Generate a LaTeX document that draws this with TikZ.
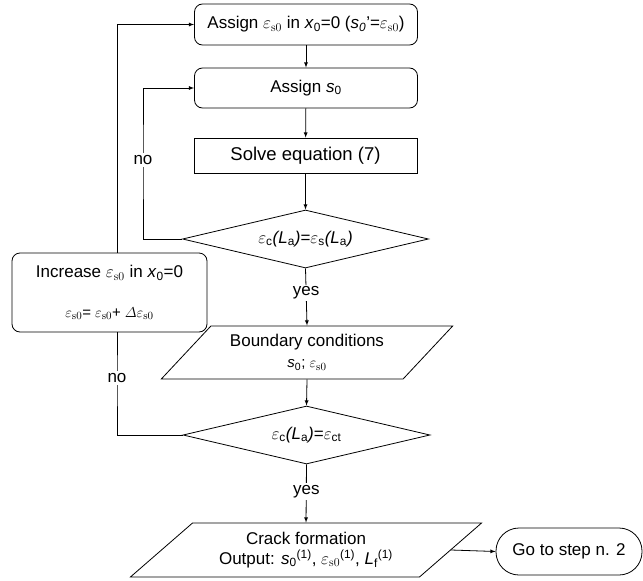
\documentclass[tikz,border=0pt]{standalone}
\usepackage{amsmath}
\usepackage[no-math]{fontspec}
\setmainfont{Liberation Sans}
\usetikzlibrary{arrows, shapes.geometric, calc}

\newcommand{\es}{$\varepsilon_{\mathrm{s0}}$}
\newcommand{\ix}[2]{\textit{#1}\textsubscript{#2}}

\begin{document}
\begin{tikzpicture}[x=1pt, y=-1pt, line width=0.8pt, >=latex,
    every node/.style={font=\fontsize{17}{20}\selectfont, inner sep=0pt},
    rbox/.style={draw, rectangle, rounded corners=8pt, minimum width=223pt, minimum height=41pt},
    sbox/.style={draw, rectangle, minimum width=223pt, minimum height=35pt},
    dbox/.style={draw, diamond, aspect=4.2, minimum width=246pt, minimum height=58pt},
    pbox/.style={draw, trapezium, trapezium stretches=true, align=center},
    lbl/.style={fill=white, inner sep=2pt}]
    \useasboundingbox (0,0) rectangle (643,581);

    % main column
    \node[rbox] (asgeps) at (306,24.5) {Assign \es{} in \ix{x}{0}=0 (\ix{s}{\textit{0}}'=\es)};
    \node[rbox, minimum height=40pt] (asgs) at (306,88) {Assign \ix{s}{0}};
    \node[sbox, font=\fontsize{18.5}{22}\selectfont] (solve) at (305.5,155.5) {Solve equation (7)};
    \node[dbox] (chk1) at (305.5,239) {$\varepsilon$\textsubscript{c}\textit{(L}\textsubscript{a}\textit{)}=$\varepsilon$\textsubscript{s}\textit{(L}\textsubscript{a}\textit{)}};
    \node[pbox, trapezium left angle=42, trapezium right angle=138,
        minimum width=292pt, minimum height=53pt] (bound) at (307,352.5)
        {Boundary conditions\\[1pt]{\fontsize{15}{18}\selectfont\ix{s}{0}; \es}};
    \node[dbox, minimum width=247pt] (chk2) at (306.5,435) {$\varepsilon$\textsubscript{c}\textit{(L}\textsubscript{a}\textit{)}=$\varepsilon$\textsubscript{ct}};
    \node[pbox, trapezium left angle=37, trapezium right angle=143,
        minimum width=352pt, minimum height=54pt] (crack) at (306,550)
        {Crack formation\\Output: \ix{s}{0}\textsuperscript{(1)}, \es\textsuperscript{(1)}, \ix{L}{f}\textsuperscript{(1)}};
    \node[rbox, rounded corners=23pt, minimum width=146pt, minimum height=47pt] (goto) at (569,551.5) {Go to step n. 2};

    % side box
    \node[rbox, minimum width=195pt, minimum height=79pt, align=center] (incr) at (109.5,292.5)
        {Increase \es{} in \ix{x}{0}=0\\[20pt]{\fontsize{15}{18}\selectfont\es= \es+ $\varDelta$\es}};

    \coordinate (k1) at (143,160);
    \coordinate (k2) at (117,378);

    \draw[->] (asgeps) -- (asgs);
    \draw[->] (asgs) -- (solve);
    \draw[->] (solve) -- (chk1);
    \draw[->] (chk1.south) -- node[lbl, pos=0.43] (yes1) {yes} (bound.north);
    \draw[->] (bound.south) -- (chk2.north);
    \draw[->] (chk2.south) -- node[lbl, pos=0.47] (yes2) {yes} (crack.north);
    \draw[->] (crack.east) -- (goto.west);

    % loops
    \draw[->] (chk1.west) -| (k1) |- (asgs.west);
    \node[lbl] (no1) at (k1) {no};
    \draw (chk2.west) -| (k2) -- (k2 |- incr.south);
    \node[lbl] (no2) at (k2) {no};
    \draw[->] (k2 |- incr.north) |- (asgeps.west);
\end{tikzpicture}
\end{document}
